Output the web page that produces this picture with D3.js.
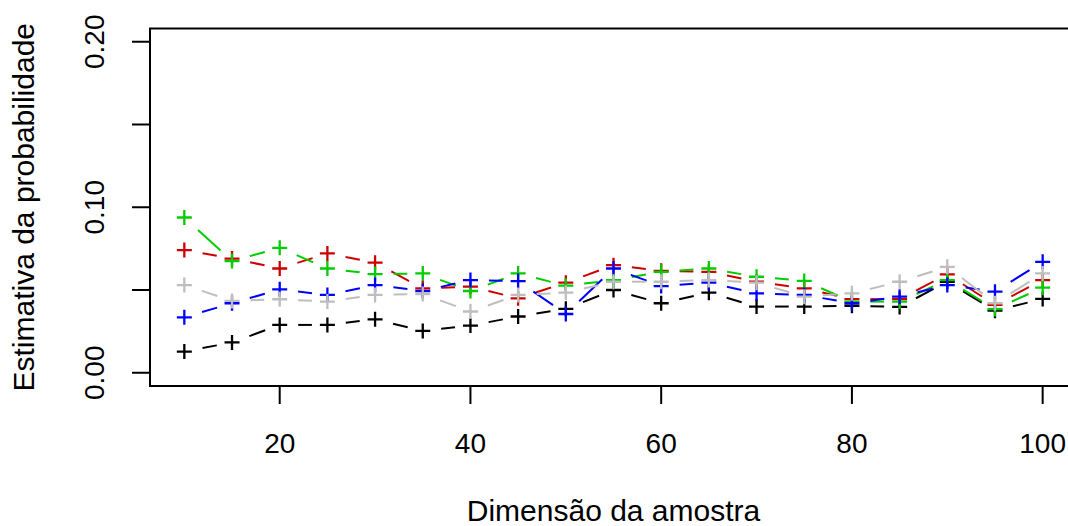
<!DOCTYPE html>
<meta charset="utf-8">
<script src="https://d3js.org/d3.v7.min.js"></script>
<style>
body { margin: 0; background: #fff; }
text { font-family: "Liberation Sans", Arial, sans-serif; fill: #000; }
.tick-label { font-size: 28px; }
.axis-title { font-size: 30px; }
</style>
<div id="my_dataviz"></div>
<script>

// sample sizes
var sizes = [10, 15, 20, 25, 30, 35, 40, 45, 50, 55, 60, 65, 70, 75, 80, 85, 90, 95, 100];

// estimated probabilities, one array per series
var serieBlack = [0.0128, 0.0183, 0.0289, 0.0289, 0.0323, 0.0253, 0.0285, 0.0340, 0.0386, 0.0500,
                  0.0420, 0.0484, 0.0400, 0.0400, 0.0405, 0.0398, 0.0550, 0.0375, 0.0446];
var serieRed   = [0.0741, 0.0690, 0.0630, 0.0721, 0.0665, 0.0510, 0.0520, 0.0450, 0.0544, 0.0650,
                  0.0616, 0.0610, 0.0550, 0.0510, 0.0445, 0.0445, 0.0595, 0.0410, 0.0560];
var serieGreen = [0.0938, 0.0675, 0.0755, 0.0630, 0.0596, 0.0600, 0.0494, 0.0600, 0.0526, 0.0560,
                  0.0610, 0.0630, 0.0580, 0.0555, 0.0430, 0.0430, 0.0560, 0.0385, 0.0514];
var serieBlue  = [0.0335, 0.0420, 0.0504, 0.0470, 0.0530, 0.0494, 0.0560, 0.0554, 0.0355, 0.0630,
                  0.0524, 0.0544, 0.0480, 0.0470, 0.0420, 0.0460, 0.0530, 0.0490, 0.0670];
var serieGray  = [0.0530, 0.0434, 0.0444, 0.0430, 0.0470, 0.0476, 0.0370, 0.0470, 0.0484, 0.0550,
                  0.0550, 0.0560, 0.0544, 0.0460, 0.0480, 0.0550, 0.0640, 0.0420, 0.0600];

var xTicks = [20, 40, 60, 80, 100];
var yTicks = [0, 0.05, 0.10, 0.15, 0.20];
var yTickLabels = ["0.00", "", "0.10", "", "0.20"];

var series = [
  {values: serieBlack, color: "#000000"},
  {values: serieRed,   color: "#cd0000"},
  {values: serieGreen, color: "#00cd00"},
  {values: serieBlue,  color: "#0000ff"},
  {values: serieGray,  color: "#bebebe"}
];

var W = 1068, H = 526;
var plot = {left: 150, right: 1077, top: 28.5, bottom: 386};

var svg = d3.select("#my_dataviz")
  .append("svg")
    .attr("width", W)
    .attr("height", H);

// R style: 4% padding around data range
var x = d3.scaleLinear().domain([6.4, 103.6]).range([plot.left, plot.right]);
var y = d3.scaleLinear().domain([-0.008, 0.208]).range([plot.bottom, plot.top]);

// box
svg.append("rect")
  .attr("x", plot.left).attr("y", plot.top)
  .attr("width", plot.right - plot.left).attr("height", plot.bottom - plot.top)
  .attr("fill", "none").attr("stroke", "#000").attr("stroke-width", 2);

// x axis
var xAxis = svg.append("g");
xAxis.selectAll("line").data(xTicks).enter().append("line")
  .attr("x1", d => x(d)).attr("x2", d => x(d))
  .attr("y1", plot.bottom).attr("y2", plot.bottom + 18)
  .attr("stroke", "#000").attr("stroke-width", 2);
xAxis.selectAll("text").data(xTicks).enter().append("text")
  .attr("class", "tick-label")
  .attr("x", d => x(d)).attr("y", 453)
  .attr("text-anchor", "middle")
  .text(d => d);

// y axis (line spans first to last tick)
var yAxis = svg.append("g");
yAxis.append("line")
  .attr("x1", plot.left).attr("x2", plot.left)
  .attr("y1", y(0)).attr("y2", y(0.2))
  .attr("stroke", "#000").attr("stroke-width", 2);
yAxis.selectAll("line.tick").data(yTicks).enter().append("line")
  .attr("class", "tick")
  .attr("x1", plot.left - 18).attr("x2", plot.left)
  .attr("y1", d => y(d)).attr("y2", d => y(d))
  .attr("stroke", "#000").attr("stroke-width", 2);
yAxis.selectAll("text").data(yTicks).enter().append("text")
  .attr("class", "tick-label")
  .attr("transform", d => "translate(104," + y(d) + ") rotate(-90)")
  .attr("text-anchor", "middle")
  .text((d, i) => yTickLabels[i]);

// axis titles
svg.append("text")
  .attr("class", "axis-title")
  .attr("x", (plot.left + plot.right) / 2).attr("y", 521)
  .attr("text-anchor", "middle")
  .text("Dimensão da amostra");
svg.append("text")
  .attr("class", "axis-title")
  .attr("transform", "translate(34," + (plot.top + plot.bottom) / 2 + ") rotate(-90)")
  .attr("text-anchor", "middle")
  .text("Estimativa da probabilidade");

// type = "b": dashed segments broken around the points
var gapStart = 18.5, gapEnd = 15.5, arm = 7.5;

series.forEach(function(s) {
  var pts = sizes.map((d, i) => [x(d), y(s.values[i])]);
  var segs = d3.pairs(pts).map(function(p) {
    var dx = p[1][0] - p[0][0], dy = p[1][1] - p[0][1];
    var len = Math.sqrt(dx * dx + dy * dy);
    if (len <= gapStart + gapEnd) return null;
    var ux = dx / len, uy = dy / len;
    return [p[0][0] + ux * gapStart, p[0][1] + uy * gapStart,
            p[1][0] - ux * gapEnd, p[1][1] - uy * gapEnd];
  }).filter(d => d);

  var g = svg.append("g");
  g.selectAll("line.seg").data(segs).enter().append("line")
    .attr("class", "seg")
    .attr("x1", d => d[0]).attr("y1", d => d[1])
    .attr("x2", d => d[2]).attr("y2", d => d[3])
    .attr("stroke", s.color).attr("stroke-width", 2)
    .attr("stroke-dasharray", "34 16");

  g.selectAll("path.pt").data(pts).enter().append("path")
    .attr("class", "pt")
    .attr("d", d => "M" + (d[0] - arm) + "," + d[1] + "H" + (d[0] + arm) +
                    "M" + d[0] + "," + (d[1] - arm) + "V" + (d[1] + arm))
    .attr("stroke", s.color).attr("stroke-width", 2.3)
    .attr("fill", "none");
});

</script>
